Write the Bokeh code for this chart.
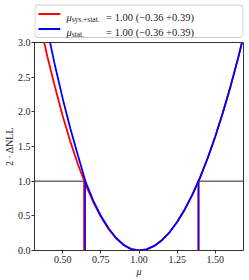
import numpy as np
from bokeh.plotting import figure
from bokeh.models import Range1d, FixedTicker, NumeralTickFormatter, Quad
from bokeh.layouts import column
from bokeh.core.properties import value
from bokeh.embed import file_html
from bokeh.resources import INLINE

# ---------------- data ----------------
mu_grid = [0.35, 0.40, 0.45, 0.50, 0.55, 0.60, 0.65, 0.70, 0.75, 0.80, 0.85, 0.90, 0.95, 1.00,
           1.05, 1.10, 1.15, 1.20, 1.25, 1.30, 1.35, 1.40, 1.45, 1.50, 1.55, 1.60, 1.65, 1.70]
nll_syst = [3.28, 2.79, 2.35, 1.94, 1.57, 1.24, 0.95, 0.70, 0.485, 0.31, 0.175, 0.078, 0.019, 0.0,
            0.016, 0.066, 0.148, 0.263, 0.411, 0.592, 0.806, 1.052, 1.331, 1.644, 1.989, 2.367, 2.778, 3.222]
nll_stat = [3.74, 3.18, 2.66, 2.19, 1.76, 1.37, 0.99, 0.72, 0.50, 0.32, 0.18, 0.08, 0.02, 0.0,
            0.016, 0.066, 0.148, 0.263, 0.411, 0.592, 0.806, 1.052, 1.331, 1.644, 1.989, 2.367, 2.778, 3.222]
syst_interval = [0.641, 1.39]
stat_interval = [0.647, 1.39]
threshold = 1.0
x_min, x_max = 0.315, 1.685
y_min, y_max = 0.0, 3.0
x_ticks = [0.50, 0.75, 1.00, 1.25, 1.50]
x_tick_labels = ["0.50", "0.75", "1.00", "1.25", "1.50"]
y_ticks = [0.0, 0.5, 1.0, 1.5, 2.0, 2.5, 3.0]
y_tick_labels = ["0.0", "0.5", "1.0", "1.5", "2.0", "2.5", "3.0"]
x_label = "\u03bc"
y_label = "2 \u00b7 \u0394NLL"
legend_subscripts = ["sys.+stat.", "stat."]
legend_values = ["= 1.00 (\u22120.36   +0.39)", "= 1.00 (\u22120.36   +0.39)"]
legend_colors = ["#ff0000", "#0000ff"]

FONT = "Liberation Serif"
FRAME = "#333333"
TXT = "#222222"
W = 249
LB, RB = 32, 6

# ---------------- main figure ----------------
p = figure(width=W, height=242, x_range=Range1d(x_min, x_max), y_range=Range1d(y_min, y_max),
           output_backend="svg", toolbar_location=None,
           min_border_left=LB, min_border_right=RB, min_border_top=4, min_border_bottom=30)
p.title.visible = False
p.grid.visible = False
p.outline_line_color = FRAME
p.outline_line_width = 1
p.border_fill_color = "white"

p.xaxis.ticker = FixedTicker(ticks=x_ticks)
p.xaxis.formatter = NumeralTickFormatter(format="0.00")
p.xaxis.major_label_overrides = dict(zip(x_ticks, x_tick_labels))
p.yaxis.ticker = FixedTicker(ticks=y_ticks)
p.yaxis.formatter = NumeralTickFormatter(format="0.0")
p.yaxis.major_label_overrides = dict(zip(y_ticks, y_tick_labels))
p.xaxis.axis_label = x_label
p.yaxis.axis_label = y_label
p.xaxis.axis_label_text_font_style = "italic"
p.yaxis.axis_label_text_font_style = "normal"
for ax in (p.xaxis, p.yaxis):
    ax.axis_line_color = None
    ax.major_tick_in = 0
    ax.major_tick_out = 3
    ax.major_tick_line_color = FRAME
    ax.minor_tick_line_color = None
    ax.major_label_text_font = FONT
    ax.major_label_text_font_size = "10px"
    ax.major_label_text_color = TXT
    ax.axis_label_text_font = FONT
    ax.axis_label_text_font_size = "10px"
    ax.axis_label_text_color = TXT
    ax.axis_label_standoff = 0
p.xaxis.major_label_standoff = 2
p.yaxis.major_label_standoff = 1

# threshold line outside the intervals
p.segment(x0=[x_min, stat_interval[1]], y0=[threshold, threshold],
          x1=[syst_interval[0], x_max], y1=[threshold, threshold],
          line_color=TXT, line_width=1)

p.line(mu_grid, nll_syst, line_color=legend_colors[0], line_width=1.8)
p.segment(x0=syst_interval, y0=[0, 0], x1=syst_interval, y1=[threshold, threshold],
          line_color=legend_colors[0], line_width=2)
p.line(mu_grid, nll_stat, line_color=legend_colors[1], line_width=1.8)
p.segment(x0=stat_interval, y0=[0, 0], x1=stat_interval, y1=[threshold, threshold],
          line_color=legend_colors[1], line_width=1.5)

# ---------------- legend figure (pixel-like coordinates) ----------------
lf = figure(width=W, height=38, x_range=Range1d(LB, W - RB), y_range=Range1d(38, 0),
            output_backend="svg", toolbar_location=None, x_axis_type=None, y_axis_type=None,
            min_border_left=LB, min_border_right=RB, min_border_top=0, min_border_bottom=0)
lf.title.visible = False
lf.grid.visible = False
lf.outline_line_color = None
lf.border_fill_color = "white"
lf.background_fill_color = "white"

rows = [13.5, 28.5]
qkw = {"border_radius": 3} if "border_radius" in Quad.properties() else {}
lf.quad(left=[32.5], right=[242.5], top=[4.5], bottom=[37.0], fill_color="white",
        line_color="#cccccc", line_width=1, **qkw)
lf.segment(x0=[36, 36], y0=rows, x1=[58, 58], y1=rows, line_color=legend_colors, line_width=1.8)
lf.text(x=[64.3, 64.3], y=[r + 3 for r in rows], text=["\u03bc", "\u03bc"],
        text_font=value(FONT), text_font_style="italic", text_font_size="10.5px",
        text_baseline="alphabetic", text_color=TXT)
lf.text(x=[69.5, 69.5], y=[r + 5 for r in rows], text=legend_subscripts,
        text_font=value(FONT), text_font_size="7.5px",
        text_baseline="alphabetic", text_color=TXT)
lf.text(x=[104.3, 104.3], y=[r + 3 for r in rows], text=legend_values,
        text_font=value(FONT), text_font_size="10.5px",
        text_baseline="alphabetic", text_color=TXT)

layout = column(lf, p, spacing=0)
open("out.html", "w").write(file_html(layout, INLINE))
